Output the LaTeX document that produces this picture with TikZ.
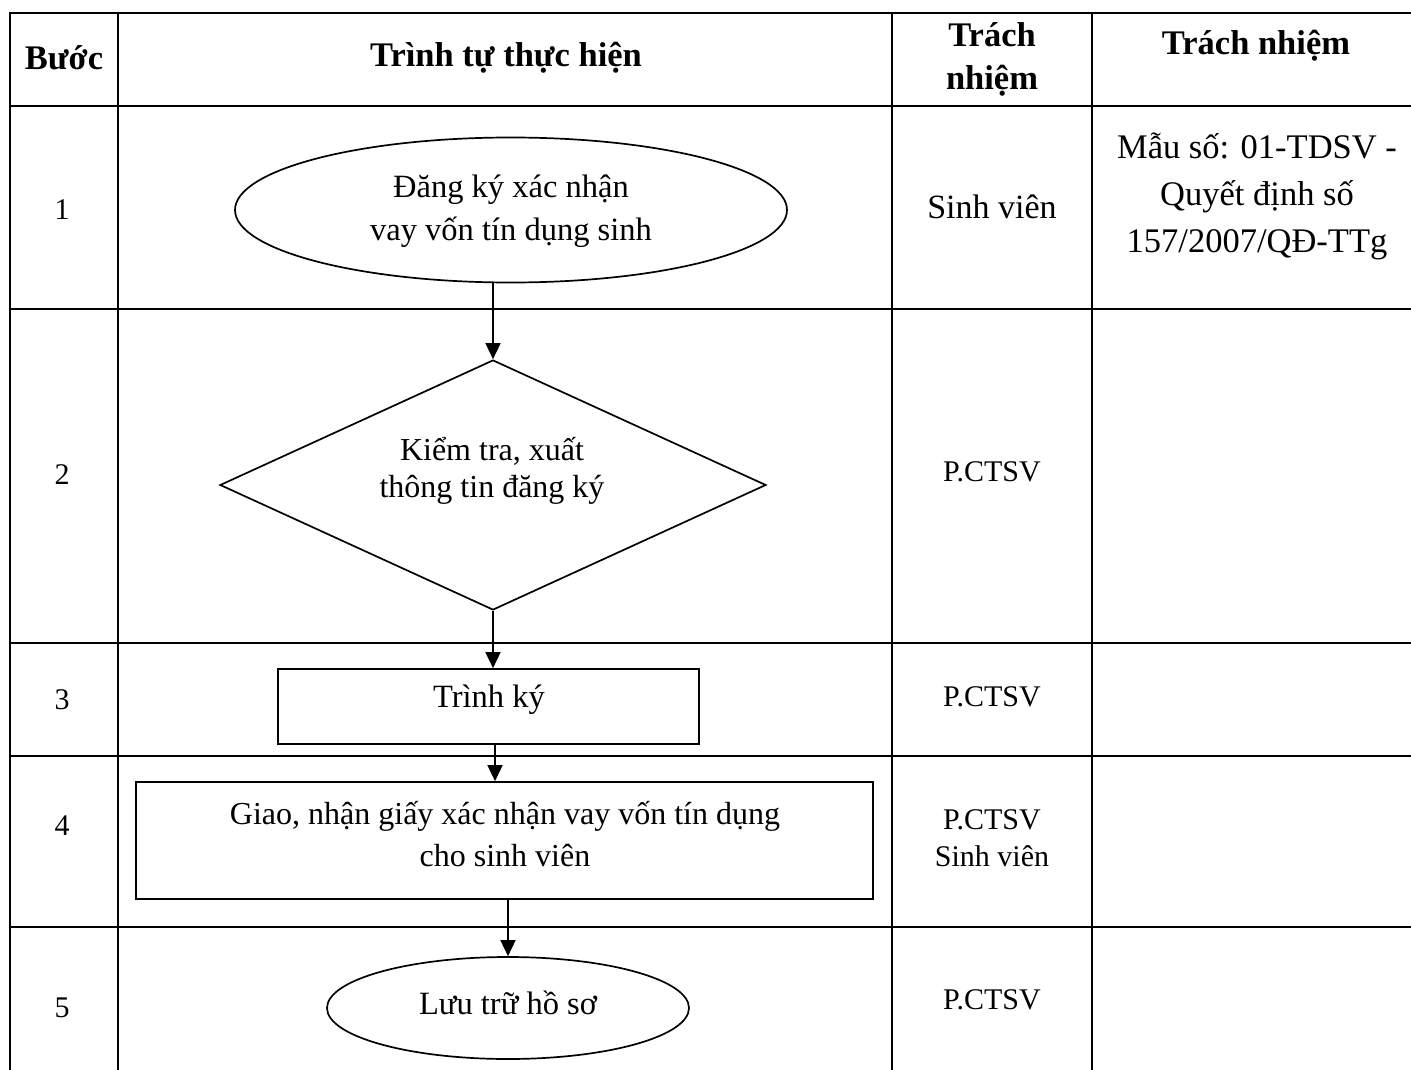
\documentclass[tikz,border=0pt]{standalone}
\usepackage{fontspec}
\setmainfont{Liberation Serif}
\usetikzlibrary{arrows.meta,shapes.geometric,calc}
\begin{document}
\begin{tikzpicture}[x=1pt,y=-1pt,
  grid/.style={line width=2.6pt, line cap=rect},
  shp/.style={draw, line width=1.7pt, inner sep=0pt},
  arr/.style={line width=1.7pt, -{Triangle[width=15pt,length=16pt]}},
  txt/.style={align=center, inner sep=0pt, font=\fontsize{32.5}{43}\selectfont},
  hdr/.style={align=center, inner sep=0pt, font=\fontsize{34.5}{43}\selectfont\bfseries},
  sm/.style={align=center, inner sep=0pt, font=\fontsize{30}{37}\selectfont},
  num/.style={inner sep=0pt, font=\fontsize{30}{34}\selectfont},
]
\useasboundingbox (0,0) rectangle (1411,1070);
% table grid
\draw[grid] (10,1080) -- (10,13) -- (1425,13);
\foreach \y in {106,309,643,756,927} \draw[grid] (10,\y) -- (1425,\y);
\foreach \x in {118,892,1092} \draw[grid] (\x,13) -- (\x,1080);
% headers
\node[hdr] (h1) at (64,58) {Bước};
\node[hdr] (h2) at (506,58) {Trình tự thực hiện};
\node[hdr] (h3) at (992,59.5) {Trách\\nhiệm};
\node[hdr] (h4) at (1256,46) {Trách nhiệm};
% step numbers
\node[num] (n1) at (62,210) {1};
\node[num] (n2) at (62,475) {2};
\node[num] (n3) at (62,700) {3};
\node[num] (n4) at (62,826) {4};
\node[num] (n5) at (62,1008) {5};
% shapes
\node[shp, ellipse, minimum width=552pt, minimum height=145pt] (e1) at (511,210) {};
\node[shp, diamond, minimum width=546pt, minimum height=250pt] (d2) at (493,485) {};
\node[shp, rectangle, minimum width=421pt, minimum height=75pt] (b3) at (488.5,706.5) {};
\node[shp, rectangle, minimum width=737pt, minimum height=117pt] (b4) at (504.5,840.5) {};
\node[shp, ellipse, minimum width=362pt, minimum height=102pt] (e5) at (508,1008) {};
% shape texts
\node[txt] (t1) at (511,211) {Đăng ký xác nhận\\vay vốn tín dụng sinh};
\node[txt, font=\fontsize{32}{37}\selectfont] (t2) at (492,471) {Kiểm tra, xuất\\thông tin đăng ký};
\node[txt] (t3) at (489,700) {Trình ký};
\node[txt, font=\fontsize{32}{42}\selectfont] (t4) at (505,834) {Giao, nhận giấy xác nhận vay vốn tín dụng\\cho sinh viên};
\node[txt] (t5) at (508,1003) {Lưu trữ hồ sơ};
% responsibility column
\node[txt, font=\fontsize{34}{43}\selectfont] (r1) at (992,207) {Sinh viên};
\node[sm] (r2) at (992,472) {P.CTSV};
\node[sm] (r3) at (992,697) {P.CTSV};
\node[sm] (r4) at (992,838) {P.CTSV\\Sinh viên};
\node[sm] (r5) at (992,1000) {P.CTSV};
% document column
\node[txt, font=\fontsize{34.5}{47}\selectfont] (m1) at (1257,196) {Mẫu số: 01-TDSV -\\Quyết định số\\157/2007/QĐ-TTg};
% connectors
\draw[arr] (e1.south -| d2.north) -- (d2.north);
\draw[arr] (d2.south) -- (d2.south |- b3.north);
\draw[arr] ([xshift=6.5pt]b3.south) -- ([xshift=6.5pt]b3.south |- b4.north);
\draw[arr] (e5.north |- b4.south) -- (e5.north);
\end{tikzpicture}
\end{document}
